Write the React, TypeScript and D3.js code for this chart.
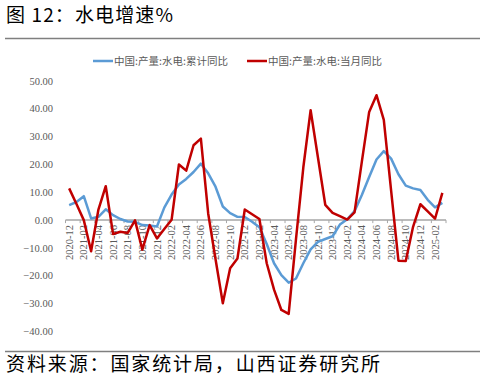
import React, { useEffect, useRef } from "react";
import * as d3 from "d3";

// months from 2020-12 to 2025-03
const months: string[] = [
  "2020-12",
  "2021-01", "2021-02", "2021-03", "2021-04", "2021-05", "2021-06",
  "2021-07", "2021-08", "2021-09", "2021-10", "2021-11", "2021-12",
  "2022-01", "2022-02", "2022-03", "2022-04", "2022-05", "2022-06",
  "2022-07", "2022-08", "2022-09", "2022-10", "2022-11", "2022-12",
  "2023-01", "2023-02", "2023-03", "2023-04", "2023-05", "2023-06",
  "2023-07", "2023-08", "2023-09", "2023-10", "2023-11", "2023-12",
  "2024-01", "2024-02", "2024-03", "2024-04", "2024-05", "2024-06",
  "2024-07", "2024-08", "2024-09", "2024-10", "2024-11", "2024-12",
  "2025-01", "2025-02", "2025-03",
];

// 中国:产量:水电:累计同比
const cumulative: number[] = [
  5.4, 6.5, 8.6, 0.6, 1.2, 3.9, 1.8, 0.4, -0.5, -0.6, -1.8, -1.9, -2.3,
  4.5, 9.2, 12.8, 14.8, 17.3, 20.3, 16.8, 12.0, 4.9, 2.5, 1.2, 1.1,
  -0.6, -2.6, -8.6, -15.5, -19.8, -22.5, -21.0, -15.5, -10.5, -7.8, -6.8, -5.8,
  -1.6, 0.3, 3.2, 9.0, 15.5, 21.8, 24.8, 22.1, 16.5, 12.4, 11.4, 10.8,
  7.3, 4.6, 6.2,
];

// 中国:产量:水电:当月同比
const monthly: number[] = [
  11.4, 5.8, 0.0, -11.2, 3.8, 12.2, -5.0, -4.2, -4.6, -0.1, -10.6, -1.8, -6.6,
  -3.2, 0.1, 20.0, 17.8, 26.9, 29.3, 2.4, -14.0, -29.9, -17.3, -13.8, 3.8,
  2.1, 0.4, -15.5, -25.0, -32.3, -33.7, -6.8, 18.9, 39.5, 22.5, 5.5, 2.6,
  1.4, 0.2, 2.8, 21.0, 38.9, 44.9, 36.0, 10.6, -14.6, -14.7, -2.4, 5.7,
  3.1, 0.5, 9.8,
];

const yTicks: number[] = [-40, -30, -20, -10, 0, 10, 20, 30, 40, 50];

const seriesNames: string[] = ["中国:产量:水电:累计同比", "中国:产量:水电:当月同比"];

const W = 485;
const H = 392;
const CJK = "'Noto Sans CJK SC', 'Noto Sans', sans-serif";
const NUM = "'Liberation Serif', 'DejaVu Serif', serif";

const App = () => {
  const ref = useRef<SVGSVGElement>(null);

  useEffect(() => {
    const svg = d3.select(ref.current);
    svg.selectAll("*").remove();

    svg.append("rect").attr("width", W).attr("height", H).attr("fill", "#fff");

    // title
    svg
      .append("text")
      .attr("x", 6)
      .attr("y", 22)
      .attr("font-family", CJK)
      .attr("font-size", 19)
      .attr("fill", "#000")
      .attr("textLength", 167)
      .attr("lengthAdjust", "spacing")
      .text("图 12：水电增速%");

    svg.append("line").attr("x1", 5).attr("x2", 480).attr("y1", 38.5).attr("y2", 38.5)
      .attr("stroke", "#7f7f7f").attr("stroke-width", 1.5);

    const x = d3.scaleBand().domain(months).range([65.5, 446]);
    const cx = (m: string) => (x(m) as number) + x.bandwidth() / 2;
    const y = d3.scaleLinear().domain([-40, 50]).range([331.4, 81]);

    // y labels
    svg
      .append("g")
      .selectAll("text")
      .data(yTicks)
      .join("text")
      .attr("x", 53)
      .attr("y", (d) => y(d))
      .attr("dy", "0.35em")
      .attr("text-anchor", "end")
      .attr("font-family", NUM)
      .attr("font-size", 10.5)
      .attr("fill", "#595959")
      .text((d) => d3.format(".2f")(d));

    // zero axis
    svg.append("line").attr("x1", 65.5).attr("x2", 446).attr("y1", y(0)).attr("y2", y(0))
      .attr("stroke", "#a6a6a6").attr("stroke-width", 1.5);

    const tickMonths = months.filter((_, i) => i % 2 === 0);
    svg
      .append("g")
      .selectAll("line")
      .data(months.concat(["end"]))
      .join("line")
      .attr("x1", (d, i) => 65.5 + i * x.bandwidth())
      .attr("x2", (d, i) => 65.5 + i * x.bandwidth())
      .attr("y1", y(0))
      .attr("y2", y(0) + 3)
      .attr("stroke", "#a6a6a6")
      .attr("stroke-width", 1)
      .attr("opacity", (d, i) => (i % 2 === 0 ? 1 : 0));

    // x labels
    svg
      .append("g")
      .selectAll("text")
      .data(tickMonths)
      .join("text")
      .attr("transform", (d) => `translate(${cx(d) + 3.6},${y(0) + 5}) rotate(-90)`)
      .attr("text-anchor", "end")
      .attr("font-family", NUM)
      .attr("font-size", 10.5)
      .attr("fill", "#595959")
      .text((d) => d);

    const line = d3
      .line<number>()
      .x((d, i) => cx(months[i]))
      .y((d) => y(d));

    svg.append("path").attr("d", line(cumulative)).attr("fill", "none")
      .attr("stroke", "#5b9bd5").attr("stroke-width", 2.5).attr("stroke-linejoin", "round");
    svg.append("path").attr("d", line(monthly)).attr("fill", "none")
      .attr("stroke", "#c00000").attr("stroke-width", 2.5).attr("stroke-linejoin", "round");

    // legend
    const legend = [
      { name: seriesNames[0], color: "#5b9bd5", x0: 93 },
      { name: seriesNames[1], color: "#c00000", x0: 247 },
    ];
    legend.forEach((l) => {
      svg.append("line").attr("x1", l.x0).attr("x2", l.x0 + 20).attr("y1", 61).attr("y2", 61)
        .attr("stroke", l.color).attr("stroke-width", 2.5);
      svg.append("text").attr("x", l.x0 + 21).attr("y", 61).attr("dy", "0.35em")
        .attr("font-family", CJK).attr("font-size", 10.5).attr("fill", "#595959")
        .attr("textLength", 114).attr("lengthAdjust", "spacing")
        .text(l.name);
    });

    // footer
    svg.append("line").attr("x1", 5).attr("x2", 480).attr("y1", 351.5).attr("y2", 351.5)
      .attr("stroke", "#7f7f7f").attr("stroke-width", 1.5);
    svg
      .append("text")
      .attr("x", 6)
      .attr("y", 371)
      .attr("font-family", CJK)
      .attr("font-size", 19)
      .attr("fill", "#000")
      .attr("textLength", 374)
      .attr("lengthAdjust", "spacing")
      .text("资料来源：国家统计局，山西证券研究所");
  }, []);

  return (
    <svg
      ref={ref}
      width={W}
      height={H}
      style={{ position: "absolute", left: 0, top: 0, display: "block" }}
    />
  );
};

export default App;
